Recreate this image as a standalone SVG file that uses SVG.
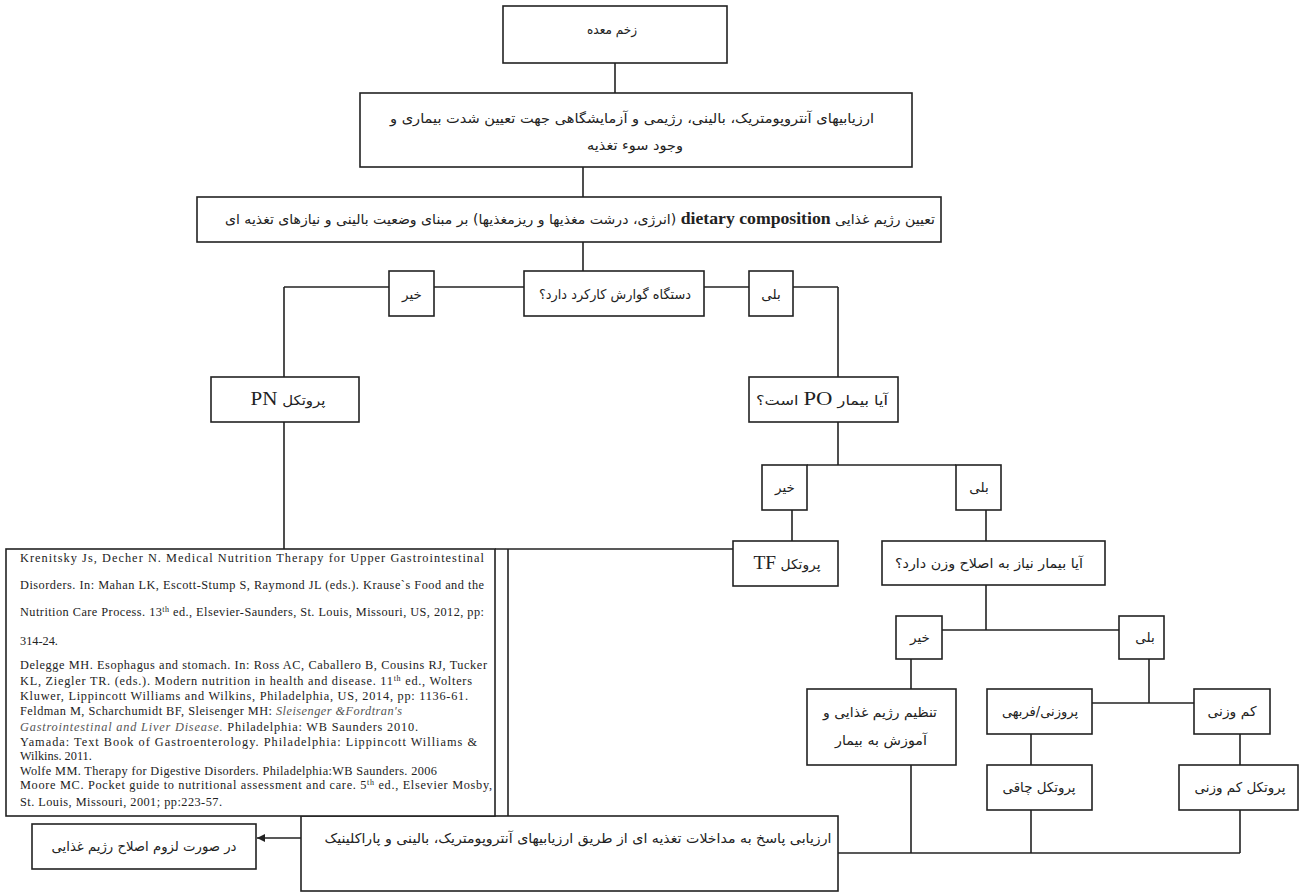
<svg xmlns="http://www.w3.org/2000/svg" width="1303" height="893" viewBox="0 0 1303 893">
<style>
.b{fill:#fff;stroke:#222;stroke-width:1.6}
.c line{stroke:#222;stroke-width:1.6}
.fa{font-family:"DejaVu Sans","Noto Sans",sans-serif;font-size:13.5px;fill:#222;direction:rtl;text-anchor:middle}
.lat{font-family:"Liberation Serif",serif;font-weight:bold;font-size:17px}
.lt{font-family:"Liberation Serif",serif;font-size:19px}
.ref{font-family:"Liberation Serif",serif;font-size:12.3px;fill:#222}
.it{font-style:italic;fill:#555}
.sup{font-size:8px}
</style>
<defs>
<marker id="ah" viewBox="0 0 10 10" refX="10" refY="5" markerWidth="9" markerHeight="8" markerUnits="userSpaceOnUse" orient="auto">
<path d="M0,0 L10,5 L0,10 z" fill="#222"/>
</marker>
</defs>
<rect width="1303" height="893" fill="#fff"/>

<g id="connectors" class="c">
<line x1="615" y1="63" x2="615" y2="93"/>
<line x1="583" y1="167" x2="583" y2="197"/>
<line x1="583" y1="242" x2="583" y2="271"/>
<line x1="284" y1="287" x2="389" y2="287"/>
<line x1="434" y1="287" x2="524" y2="287"/>
<line x1="704" y1="287" x2="749" y2="287"/>
<line x1="793" y1="287" x2="838" y2="287"/>
<line x1="284" y1="287" x2="284" y2="377"/>
<line x1="838" y1="287" x2="838" y2="377"/>
<line x1="284" y1="422" x2="284" y2="549"/>
<line x1="495" y1="549" x2="733" y2="549"/>
<line x1="508" y1="549" x2="508" y2="816"/>
<line x1="838" y1="422" x2="838" y2="465"/>
<line x1="807" y1="465" x2="956" y2="465"/>
<line x1="792" y1="510" x2="792" y2="541"/>
<line x1="986" y1="510" x2="986" y2="541"/>
<line x1="986" y1="585" x2="986" y2="630"/>
<line x1="942" y1="630" x2="1119" y2="630"/>
<line x1="911" y1="659" x2="911" y2="689"/>
<line x1="1149" y1="659" x2="1149" y2="703"/>
<line x1="1092" y1="703" x2="1194" y2="703"/>
<line x1="1031" y1="734" x2="1031" y2="765"/>
<line x1="1240" y1="734" x2="1240" y2="765"/>
<line x1="911" y1="765" x2="911" y2="853"/>
<line x1="1031" y1="810" x2="1031" y2="853"/>
<line x1="1240" y1="810" x2="1240" y2="853"/>
<line x1="838" y1="853" x2="1240" y2="853"/>
<line x1="301" y1="838" x2="257" y2="838" marker-end="url(#ah)"/>
</g>

<g id="n1"><rect class="b" x="503" y="6" width="224" height="57"/>
<text class="fa" x="612" y="34" textLength="50" lengthAdjust="spacingAndGlyphs">زخم معده</text></g>

<g id="n2"><rect class="b" x="360" y="93" width="552" height="74"/>
<text class="fa" x="632" y="123" textLength="484" lengthAdjust="spacingAndGlyphs">ارزیابیهای آنتروپومتریک، بالینی، رژیمی و آزمایشگاهی جهت تعیین شدت بیماری و</text>
<text class="fa" x="635" y="150" textLength="96" lengthAdjust="spacingAndGlyphs">وجود سوء تغذیه</text></g>

<g id="n3"><rect class="b" x="197" y="197" width="744" height="45"/>
<text class="fa" x="580" y="224" textLength="710" lengthAdjust="spacingAndGlyphs">تعیین رژیم غذایی <tspan class="lat">dietary composition</tspan> (انرژی، درشت مغذیها و ریزمغذیها) بر مبنای وضعیت بالینی و نیازهای تغذیه ای</text></g>

<g id="n4"><rect class="b" x="524" y="271" width="180" height="45"/>
<text class="fa" x="615" y="299" textLength="152" lengthAdjust="spacingAndGlyphs">دستگاه گوارش کارکرد دارد؟</text></g>

<g id="n5"><rect class="b" x="389" y="271" width="45" height="45"/>
<text class="fa" x="412" y="299">خیر</text></g>
<g id="n6"><rect class="b" x="749" y="271" width="44" height="45"/>
<text class="fa" x="771" y="299">بلی</text></g>

<g id="n7"><rect class="b" x="211" y="377" width="148" height="45"/>
<text class="fa" x="288" y="405" textLength="75" lengthAdjust="spacingAndGlyphs">پروتکل <tspan class="lt">PN</tspan></text></g>

<g id="n8"><rect class="b" x="749" y="377" width="149" height="45"/>
<text class="fa" x="822" y="405" textLength="132" lengthAdjust="spacingAndGlyphs">آیا بیمار <tspan class="lt">PO</tspan> است؟</text></g>

<g id="n9"><rect class="b" x="762" y="465" width="45" height="45"/>
<text class="fa" x="785" y="492">خیر</text></g>
<g id="n10"><rect class="b" x="956" y="465" width="45" height="45"/>
<text class="fa" x="979" y="492">بلی</text></g>

<g id="n11"><rect class="b" x="733" y="541" width="105" height="45"/>
<text class="fa" x="787" y="569" textLength="67" lengthAdjust="spacingAndGlyphs">پروتکل <tspan class="lt">TF</tspan></text></g>

<g id="n12"><rect class="b" x="882" y="541" width="223" height="44"/>
<text class="fa" x="989" y="568" textLength="188" lengthAdjust="spacingAndGlyphs">آیا بیمار نیاز به اصلاح وزن دارد؟</text></g>

<g id="n13"><rect class="b" x="896" y="616" width="46" height="43"/>
<text class="fa" x="920" y="642">خیر</text></g>
<g id="n14"><rect class="b" x="1119" y="616" width="45" height="43"/>
<text class="fa" x="1145" y="642">بلی</text></g>

<g id="n15"><rect class="b" x="807" y="689" width="149" height="76"/>
<text class="fa" x="880" y="717" textLength="114" lengthAdjust="spacingAndGlyphs">تنظیم رژیم غذایی و</text>
<text class="fa" x="881" y="745" textLength="92" lengthAdjust="spacingAndGlyphs">آموزش به بیمار</text></g>

<g id="n16"><rect class="b" x="987" y="689" width="105" height="45"/>
<text class="fa" x="1040" y="716" textLength="76" lengthAdjust="spacingAndGlyphs">پروزنی/فربهی</text></g>

<g id="n17"><rect class="b" x="1194" y="689" width="76" height="45"/>
<text class="fa" x="1232" y="716" textLength="49" lengthAdjust="spacingAndGlyphs">کم وزنی</text></g>

<g id="n18"><rect class="b" x="987" y="765" width="105" height="45"/>
<text class="fa" x="1039" y="792" textLength="73" lengthAdjust="spacingAndGlyphs">پروتکل چاقی</text></g>

<g id="n19"><rect class="b" x="1179" y="765" width="119" height="45"/>
<text class="fa" x="1240" y="792" textLength="91" lengthAdjust="spacingAndGlyphs">پروتکل کم وزنی</text></g>

<g id="n20"><rect class="b" x="301" y="816" width="537" height="75"/>
<text class="fa" x="578" y="843" textLength="507" lengthAdjust="spacingAndGlyphs">ارزیابی پاسخ به مداخلات تغذیه ای از طریق ارزیابیهای آنتروپومتریک، بالینی و پاراکلینیک</text></g>

<g id="n21"><rect class="b" x="32" y="824" width="224" height="45"/>
<text class="fa" x="144" y="851" textLength="185" lengthAdjust="spacingAndGlyphs">در صورت لزوم اصلاح رژیم غذایی</text></g>

<g id="refs"><rect class="b" x="6" y="549" width="489" height="267"/>
<text class="ref" x="20" y="562" textLength="464" lengthAdjust="spacing">Krenitsky Js, Decher N. Medical Nutrition Therapy for Upper Gastrointestinal</text>
<text class="ref" x="20" y="589" textLength="464" lengthAdjust="spacing">Disorders. In: Mahan LK, Escott-Stump S, Raymond JL (eds.). Krause`s Food and the</text>
<text class="ref" x="20" y="616" textLength="464" lengthAdjust="spacing">Nutrition Care Process. 13<tspan class="sup" baseline-shift="super">th</tspan> ed., Elsevier-Saunders, St. Louis, Missouri, US, 2012, pp:</text>
<text class="ref" x="20" y="645">314-24.</text>
<text class="ref" x="20" y="669" textLength="467" lengthAdjust="spacing">Delegge MH. Esophagus and stomach. In: Ross AC, Caballero B, Cousins RJ, Tucker</text>
<text class="ref" x="20" y="685" textLength="452" lengthAdjust="spacing">KL, Ziegler TR. (eds.). Modern nutrition in health and disease. 11<tspan class="sup" baseline-shift="super">th</tspan> ed., Wolters</text>
<text class="ref" x="20" y="700" textLength="448" lengthAdjust="spacing">Kluwer, Lippincott Williams and Wilkins, Philadelphia, US, 2014, pp: 1136-61.</text>
<text class="ref" x="20" y="715" textLength="382" lengthAdjust="spacing">Feldman M, Scharchumidt BF, Sleisenger MH: <tspan class="it">Sleisenger &amp;Fordtran's</tspan></text>
<text class="ref" x="20" y="731" textLength="398" lengthAdjust="spacing"><tspan class="it">Gastrointestinal and Liver Disease.</tspan> Philadelphia: WB Saunders 2010.</text>
<text class="ref" x="20" y="746" textLength="457" lengthAdjust="spacing">Yamada: Text Book of Gastroenterology. Philadelphia: Lippincott Williams &amp;</text>
<text class="ref" x="20" y="760">Wilkins. 2011.</text>
<text class="ref" x="20" y="775" textLength="417" lengthAdjust="spacing">Wolfe MM. Therapy for Digestive Disorders. Philadelphia:WB Saunders. 2006</text>
<text class="ref" x="20" y="789" textLength="472" lengthAdjust="spacing">Moore MC. Pocket guide to nutritional assessment and care. 5<tspan class="sup" baseline-shift="super">th</tspan> ed., Elsevier Mosby,</text>
<text class="ref" x="20" y="806" textLength="202" lengthAdjust="spacing">St. Louis, Missouri, 2001; pp:223-57.</text>
</g>
</svg>
